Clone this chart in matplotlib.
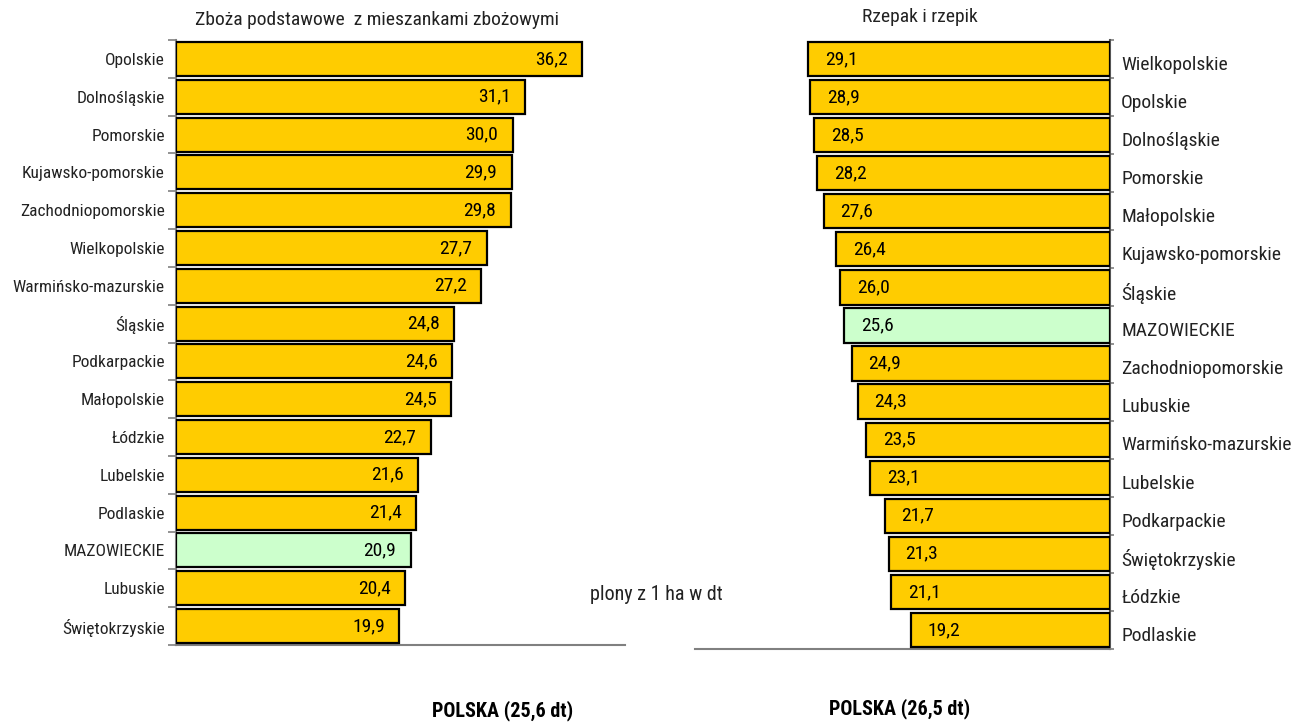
import matplotlib
matplotlib.use("Agg")
import matplotlib.pyplot as plt
import numpy as np

plt.rcParams['font.family'] = ['Roboto Condensed', 'DejaVu Sans']

# ---- data ----
cereal_regions = ["Opolskie", "Dolnośląskie", "Pomorskie", "Kujawsko-pomorskie",
                  "Zachodniopomorskie", "Wielkopolskie", "Warmińsko-mazurskie",
                  "Śląskie", "Podkarpackie", "Małopolskie", "Łódzkie", "Lubelskie",
                  "Podlaskie", "MAZOWIECKIE", "Lubuskie", "Świętokrzyskie"]
cereal_values = [36.2, 31.1, 30.0, 29.9, 29.8, 27.7, 27.2, 24.8, 24.6, 24.5,
                 22.7, 21.6, 21.4, 20.9, 20.4, 19.9]

rape_regions = ["Wielkopolskie", "Opolskie", "Dolnośląskie", "Pomorskie",
                "Małopolskie", "Kujawsko-pomorskie", "Śląskie", "MAZOWIECKIE",
                "Zachodniopomorskie", "Lubuskie", "Warmińsko-mazurskie",
                "Lubelskie", "Podkarpackie", "Świętokrzyskie", "Łódzkie",
                "Podlaskie"]
rape_values = [29.1, 28.9, 28.5, 28.2, 27.6, 26.4, 26.0, 25.6, 24.9, 24.3,
               23.5, 23.1, 21.7, 21.3, 21.1, 19.2]

highlight = "MAZOWIECKIE"
title_left = "Zboża podstawowe  z mieszankami zbożowymi"
title_right = "Rzepak i rzepik"
unit_label = "plony z 1 ha w dt"
polska_left = "POLSKA (25,6 dt)"
polska_right = "POLSKA (26,5 dt)"

YELLOW = "#FFCC00"
GREEN = "#CCFFCC"
GRAY = "#808080"

W, H = 1308, 722
fig = plt.figure(figsize=(W / 100, H / 100), dpi=100)


def fmt(v):
    return f"{v:.1f}".replace(".", ",")


def box(x0, y0, x1, y1):
    return [x0 / W, 1 - y1 / H, (x1 - x0) / W, (y1 - y0) / H]


# ---- left chart ----
axL = fig.add_axes(box(176, 40, 625, 645))
n = len(cereal_values)
pos = np.arange(n)
colors = [GREEN if r == highlight else YELLOW for r in cereal_regions]
axL.barh(pos, cereal_values, height=0.9, color=colors, edgecolor="black",
         linewidth=1.6, zorder=3)
axL.set_xlim(0, 40)
axL.set_ylim(n - 0.5, -0.5)
axL.set_xticks([])
axL.set_yticks(pos)
axL.set_yticklabels(cereal_regions, fontsize=12.5, color="#222222")
axL.tick_params(axis="y", which="major", length=0, pad=8)
axL.set_yticks(np.arange(n + 1) - 0.5, minor=True)
axL.tick_params(axis="y", which="minor", length=6, color=GRAY, width=1.2)
for s in ["top", "right"]:
    axL.spines[s].set_visible(False)
for s in ["left", "bottom"]:
    axL.spines[s].set_color(GRAY)
    axL.spines[s].set_linewidth(1.5)
for i, v in enumerate(cereal_values):
    axL.text(v - 1.3, i, fmt(v), ha="right", va="center", fontsize=14,
             zorder=4)

# ---- right chart ----
axR = fig.add_axes(box(695, 40, 1110, 649))
n2 = len(rape_values)
pos2 = np.arange(n2)
colors2 = [GREEN if r == highlight else YELLOW for r in rape_regions]
axR.barh(pos2, rape_values, height=0.9, color=colors2, edgecolor="black",
         linewidth=1.6, zorder=3)
axR.set_xlim(40, 0)
axR.set_ylim(n2 - 0.5, -0.5)
axR.set_xticks([])
axR.yaxis.tick_right()
axR.set_yticks(pos2 + 0.1)
axR.set_yticklabels(rape_regions, fontsize=14, color="#222222")
axR.tick_params(axis="y", which="major", length=0, pad=8)
axR.set_yticks(np.arange(n2 + 1) - 0.5, minor=True)
axR.tick_params(axis="y", which="minor", length=3, color=GRAY, width=1.2,
                right=True, left=False)
for s in ["top", "left"]:
    axR.spines[s].set_visible(False)
axR.spines["right"].set_color("#555555")
axR.spines["right"].set_linewidth(1.5)
axR.spines["bottom"].set_color(GRAY)
axR.spines["bottom"].set_linewidth(1.5)
for i, v in enumerate(rape_values):
    axR.text(v - 1.6, i, fmt(v), ha="left", va="center", fontsize=14,
             zorder=4)

# ---- texts ----
fig.text(377 / W, 1 - 20 / H, title_left, ha="center", va="center",
         fontsize=14, color="#222222")
fig.text(920 / W, 1 - 17 / H, title_right, ha="center", va="center",
         fontsize=14, color="#222222")
fig.text(590 / W, 1 - 595 / H, unit_label, ha="left", va="center",
         fontsize=14.5, color="#222222")
fig.text(503 / W, 1 - 711 / H, polska_left, ha="center", va="center",
         fontsize=14.5, fontweight="bold")
fig.text(900 / W, 1 - 709 / H, polska_right, ha="center", va="center",
         fontsize=14.5, fontweight="bold")

fig.savefig("out.png", dpi=100)
